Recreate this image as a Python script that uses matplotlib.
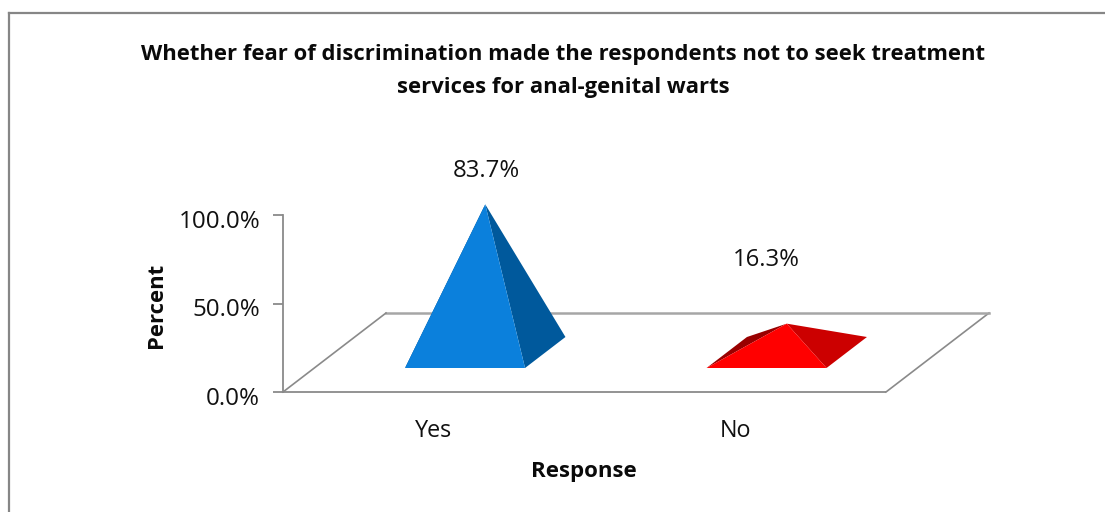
import matplotlib
matplotlib.use("Agg")
import matplotlib.pyplot as plt
from matplotlib.lines import Line2D
from matplotlib.patches import Polygon
from matplotlib.transforms import ScaledTranslation

categories = ["Yes", "No"]
percent = [83.7, 16.3]
value_labels = ["83.7%", "16.3%"]
y_ticks = [0, 50, 100]
y_tick_labels = ["0.0%", "50.0%", "100.0%"]
title = ("Whether fear of discrimination made the respondents not to seek treatment\n"
         "services for anal-genital warts")
x_title = "Response"
y_title = "Percent"

W, H = 1105, 512
GRAY = "#8a8a8a"
FONT = "Open Sans"
plt.rcParams["font.family"] = [FONT, "DejaVu Sans"]


def px(x, y):
    return x / W, 1 - y / H


fig = plt.figure(figsize=(W / 100, H / 100), dpi=100, facecolor="white")
ax = fig.add_axes([283 / W, 1 - 392 / H, (886 - 283) / W, (392 - 215) / H])
ax.set_xlim(0, 2)
ax.set_ylim(0, 100)
ax.patch.set_visible(False)
for s in ("top", "right", "bottom"):
    ax.spines[s].set_visible(False)
ax.spines["left"].set_color(GRAY)
ax.spines["left"].set_linewidth(1.3)

# oblique projection: depth (0 front .. 1 back) shifts the point right and up
DX = 103 / 301.5
DY = 79 / 1.77


def pt(x, depth, value=0.0):
    return (x + depth * DX, value + depth * DY)


# floor
floor = [pt(0, 0), pt(2, 0), pt(2, 1), pt(0, 1), pt(0, 0)]
ax.plot(*zip(*floor[:2]), color=GRAY, lw=1.3, clip_on=False, solid_capstyle="butt")
ax.plot(*zip(*floor[1:3]), color=GRAY, lw=1.2, clip_on=False)
ax.plot(*zip(*floor[2:4]), color="#a6a6a6", lw=1.8, clip_on=False)
ax.plot(*zip(*floor[3:5]), color=GRAY, lw=1.2, clip_on=False)

HALF = 60 / 301.5
D0, D1 = 0.5 - 15.5 / 79, 0.5 + 15.5 / 79
colors = [("#0b80dc", "#00599c", "#00497f"), ("#ff0000", "#cc0000", "#990000")]
label_pos = [(486, 171), (766, 260)]

for i, (cat, v) in enumerate(zip(categories, percent)):
    c = i + 0.5
    fl, fr = pt(c - HALF, D0), pt(c + HALF, D0)
    bl, br = pt(c - HALF, D1), pt(c + HALF, D1)
    apex = pt(c, 0.5, v)
    front, right, left = colors[i]
    ax.add_patch(Polygon([fl, bl, apex], color=left, lw=0, clip_on=False, zorder=3))
    ax.add_patch(Polygon([fr, br, apex], color=right, lw=0, clip_on=False, zorder=3))
    ax.add_patch(Polygon([fl, fr, apex], color=front, lw=0, clip_on=False, zorder=4))
    lx, ly = label_pos[i]
    fig.text(*px(lx, ly), value_labels[i], ha="center", va="center",
             fontsize=17.2, color="#111111")

ax.set_xticks([0.5, 1.5], categories)
ax.tick_params(axis="x", length=0, pad=19.5, labelsize=16.8, labelcolor="#111111")
ax.set_yticks(y_ticks, y_tick_labels)
ax.tick_params(axis="y", length=7, width=1.3, color=GRAY, pad=9.5,
               labelsize=17.4, labelcolor="#111111")
shift = ScaledTranslation(0, -4 / 100, fig.dpi_scale_trans)
for lab in ax.get_yticklabels():
    lab.set_transform(lab.get_transform() + shift)

fig.text(*px(563, 71), title, ha="center", va="center", fontsize=15.8,
         fontweight="bold", color="#0a0a0a", linespacing=1.72)
fig.text(*px(584, 471), x_title, ha="center", va="center", fontsize=16,
         fontweight="bold", color="#0a0a0a")
fig.text(*px(156, 305), y_title, ha="center", va="center", rotation=90,
         fontsize=15.8, fontweight="bold", color="#0a0a0a")

# chart frame (only the left and top edges are visible)
fig.add_artist(Line2D([9 / W, 9 / W], [0, 1 - 13 / H], color="#868686", lw=1.6))
fig.add_artist(Line2D([9 / W, 1], [1 - 13 / H, 1 - 13 / H], color="#868686", lw=1.6))

fig.savefig("out.png", dpi=100, facecolor="white")
